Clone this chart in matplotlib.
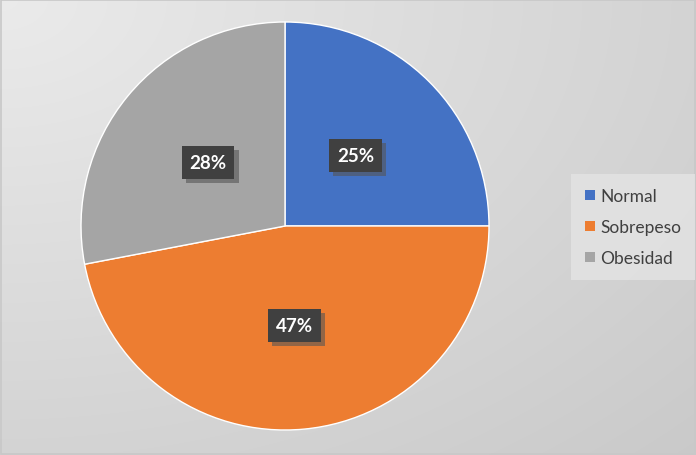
import numpy as np
import matplotlib
matplotlib.use("Agg")
import matplotlib.pyplot as plt
import matplotlib.patheffects as pe
from matplotlib.patches import Patch

plt.rcParams['font.family'] = ['Lato', 'DejaVu Sans']

# datos
categorias = ['Normal', 'Sobrepeso', 'Obesidad']
valores = [25, 47, 28]
colores = ['#4472C4', '#ED7D31', '#A5A5A5']

fig = plt.figure(figsize=(6.96, 4.56), dpi=100)

# fondo con degradado radial
bg = fig.add_axes([0, 0, 1, 1], zorder=0)
yy, xx = np.mgrid[0:456, 0:696]
d = np.sqrt((xx / 696.0) ** 2 + (yy / 456.0) ** 2) / np.sqrt(2)
g = 0.92 - 0.13 * d
bg.imshow(np.dstack([g, g, g]), aspect='auto', extent=[0, 1, 0, 1])
bg.set_xlim(0, 1)
bg.set_ylim(0, 1)
bg.axis('off')
borde = plt.Rectangle((0.001, 0.002), 0.997, 0.995, transform=bg.transAxes,
                      fill=False, edgecolor='#c8c8c8', linewidth=1.2)
bg.add_patch(borde)

# pastel: centro (285,227), radio ~204 px
R = 204
ax = fig.add_axes([(285 - R) / 696, (456 - 227 - R) / 456, 2 * R / 696, 2 * R / 456], zorder=1)
wedges, texts, autotexts = ax.pie(
    valores, colors=colores, startangle=90, counterclock=False,
    autopct='%1.0f%%', pctdistance=0.49,
    wedgeprops=dict(edgecolor='white', linewidth=1.0),
    textprops=dict(color='white', fontsize=13.5, fontweight='bold'))
ax.set_xlim(-1, 1)
ax.set_ylim(-1, 1)
ax.set_aspect('equal')

for t in autotexts:
    t.set_bbox(dict(boxstyle='square,pad=0.42', facecolor='#404040', edgecolor='none'))
    t.get_bbox_patch().set_path_effects([
        pe.SimplePatchShadow(offset=(3, -3), shadow_rgbFace='#555555', alpha=0.6),
        pe.Normal()])

# leyenda
handles = [Patch(facecolor=c, edgecolor='none') for c in colores]
leg = fig.legend(handles, categorias, loc='upper left',
                 bbox_to_anchor=(568 / 696, 1 - 172 / 456),
                 frameon=True, fontsize=12.5, handlelength=0.55, handleheight=0.55,
                 handletextpad=0.3, labelspacing=0.85, borderpad=0.5,
                 labelcolor='#404040')
leg.get_frame().set_facecolor('#e4e4e4')
leg.get_frame().set_edgecolor('none')
leg.get_frame().set_boxstyle('square')
leg.set_zorder(2)

plt.savefig('out.png', dpi=100)
